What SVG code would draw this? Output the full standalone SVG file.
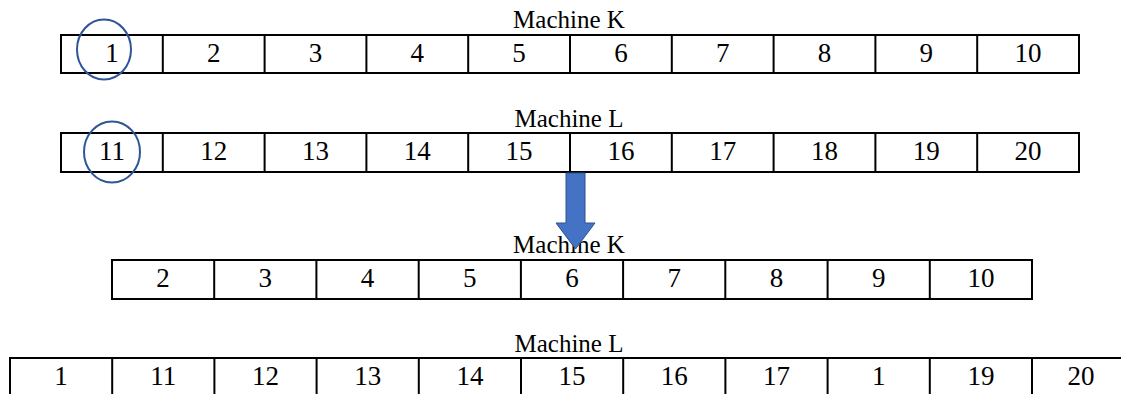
<svg xmlns="http://www.w3.org/2000/svg" width="1121" height="394" viewBox="0 0 1121 394">
<style>
.cell{fill:#fff;stroke:#000;stroke-width:2}
.ring{fill:none;stroke:#2F5597;stroke-width:2}
</style>
<rect width="1121" height="394" fill="#fff"/>
<g font-family="Liberation Serif, serif" fill="#000" text-anchor="middle">
<g id="row1">
<text font-size="25" x="569" y="28">Machine K</text>
<rect class="cell" x="61" y="35" width="1018" height="38"/>
<path d="M162.8 35V73M264.6 35V73M366.4 35V73M468.2 35V73M570 35V73M671.8 35V73M773.6 35V73M875.4 35V73M977.2 35V73" stroke="#000" stroke-width="2"/>
<g font-size="27">
<text x="111.9" y="62">1</text><text x="213.7" y="62">2</text><text x="315.5" y="62">3</text><text x="417.3" y="62">4</text><text x="519.1" y="62">5</text><text x="620.9" y="62">6</text><text x="722.7" y="62">7</text><text x="824.5" y="62">8</text><text x="926.3" y="62">9</text><text x="1028.1" y="62">10</text>
</g>
</g>
<g id="row2">
<text font-size="25" x="569" y="127">Machine L</text>
<rect class="cell" x="61" y="133" width="1018" height="39"/>
<path d="M162.8 133V172M264.6 133V172M366.4 133V172M468.2 133V172M570 133V172M671.8 133V172M773.6 133V172M875.4 133V172M977.2 133V172" stroke="#000" stroke-width="2"/>
<g font-size="27">
<text x="111.9" y="160">11</text><text x="213.7" y="160">12</text><text x="315.5" y="160">13</text><text x="417.3" y="160">14</text><text x="519.1" y="160">15</text><text x="620.9" y="160">16</text><text x="722.7" y="160">17</text><text x="824.5" y="160">18</text><text x="926.3" y="160">19</text><text x="1028.1" y="160">20</text>
</g>
</g>
<g id="row3">
<text font-size="25" x="569" y="253">Machine K</text>
<rect class="cell" x="112" y="260" width="920" height="39"/>
<path d="M214.2 260V299M316.4 260V299M418.7 260V299M520.9 260V299M623.1 260V299M725.3 260V299M827.6 260V299M929.8 260V299" stroke="#000" stroke-width="2"/>
<g font-size="27">
<text x="163.1" y="287">2</text><text x="265.3" y="287">3</text><text x="367.5" y="287">4</text><text x="469.8" y="287">5</text><text x="572" y="287">6</text><text x="674.2" y="287">7</text><text x="776.4" y="287">8</text><text x="878.7" y="287">9</text><text x="980.9" y="287">10</text>
</g>
</g>
<g id="row4">
<text font-size="25" x="569" y="352">Machine L</text>
<rect class="cell" x="10" y="358" width="1130" height="39"/>
<path d="M112.2 358V397M214.4 358V397M316.6 358V397M418.8 358V397M521 358V397M623.2 358V397M725.4 358V397M827.6 358V397M929.8 358V397M1032 358V397" stroke="#000" stroke-width="2"/>
<g font-size="27">
<text x="61.1" y="385">1</text><text x="163.3" y="385">11</text><text x="265.5" y="385">12</text><text x="367.7" y="385">13</text><text x="469.9" y="385">14</text><text x="572.1" y="385">15</text><text x="674.3" y="385">16</text><text x="776.5" y="385">17</text><text x="878.7" y="385">1</text><text x="980.9" y="385">19</text><text x="1081" y="385">20</text>
</g>
</g>
</g>
<g id="circles">
<ellipse class="ring" cx="104" cy="49.5" rx="27" ry="30"/>
<ellipse class="ring" cx="112" cy="152" rx="28" ry="30.5"/>
</g>
<g id="connectors">
<path d="M566 173H585V223H595L575.5 249L556 223H566Z" fill="#4472C4" stroke="#2F528F" stroke-width="1"/>
</g>
</svg>
